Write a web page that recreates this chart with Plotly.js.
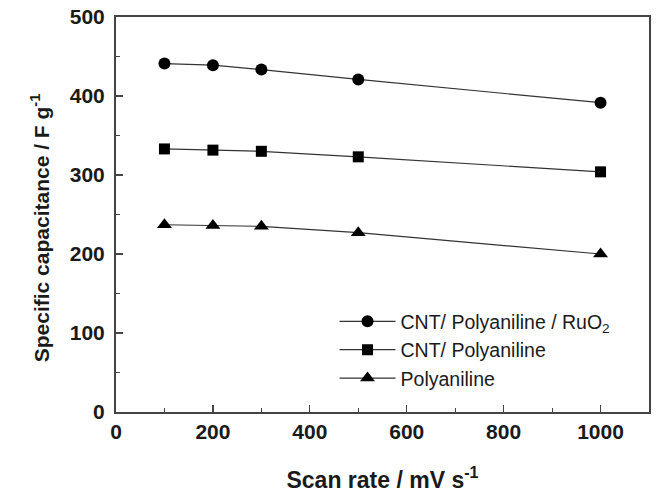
<!DOCTYPE html>
<html><head><meta charset="utf-8">
<script src="https://cdn.plot.ly/plotly-3.0.1.min.js"></script>
<style>html,body{margin:0;padding:0;background:#fff}#c{width:658px;height:493px}</style>
</head><body><div id="c"></div>
<script>
const scanRate = [100, 200, 300, 500, 1000];
const cntPaniRuo2 = [441, 439, 433.5, 421, 391.5];
const cntPani = [333, 331.5, 330, 323, 304];
const pani = [237, 236, 235, 227, 200];
const names = ['CNT/ Polyaniline / RuO<sub>2</sub>', 'CNT/ Polyaniline', 'Polyaniline'];
const symbols = ['circle', 'square', 'triangle-up'];
const sizes = [12, 11, 13];
const series = [cntPaniRuo2, cntPani, pani];

const traces = series.map((ys, i) => ({
  x: scanRate, y: ys, name: names[i], type: 'scatter', mode: 'lines+markers',
  line: {color: '#333', width: 1.2},
  marker: {symbol: symbols[i], size: sizes[i], color: '#000'}
}));

const FAM = 'Liberation Sans';
const axisCommon = {
  showline: true, linecolor: '#444', linewidth: 2, mirror: true,
  ticks: 'inside', ticklen: 7, tickcolor: '#444', tickwidth: 1.2,
  showgrid: false, zeroline: false,
  tickfont: {family: FAM, size: 21, color: '#1a1a1a', weight: 700},
  minor: {ticks: 'inside', ticklen: 4, tickcolor: '#444', tickwidth: 1, showgrid: false}
};

const layout = {
  width: 658, height: 493,
  margin: {l: 116, r: 9, t: 17, b: 81},
  paper_bgcolor: '#fff', plot_bgcolor: '#fff',
  showlegend: true,
  legend: {x: 0.41, y: 0.035, xanchor: 'left', yanchor: 'bottom', bgcolor: 'rgba(0,0,0,0)',
    font: {family: FAM, size: 19.5, color: '#1a1a1a'}, itemwidth: 56, tracegroupgap: 0},
  xaxis: Object.assign({}, axisCommon, {
    range: [0, 1100], dtick: 200, tick0: 0,
    minor: Object.assign({}, axisCommon.minor, {dtick: 100}),
    title: {text: 'Scan rate / mV s<sup>-1</sup>', standoff: 30,
      font: {family: FAM, size: 23, color: '#1a1a1a', weight: 700}}
  }),
  yaxis: Object.assign({}, axisCommon, {
    range: [0, 500], dtick: 100, tick0: 0, ticklabelstandoff: 5,
    minor: Object.assign({}, axisCommon.minor, {dtick: 50})
  }),
  annotations: [{
    text: 'Specific capacitance / F g<sup>-1</sup>', textangle: -90,
    xref: 'paper', yref: 'paper', x: -0.142, y: 0.466, xanchor: 'center', yanchor: 'middle',
    showarrow: false, font: {family: FAM, size: 21, color: '#1a1a1a', weight: 700}
  }]
};

Plotly.newPlot('c', traces, layout, {displayModeBar: false, staticPlot: true});
</script></body></html>
